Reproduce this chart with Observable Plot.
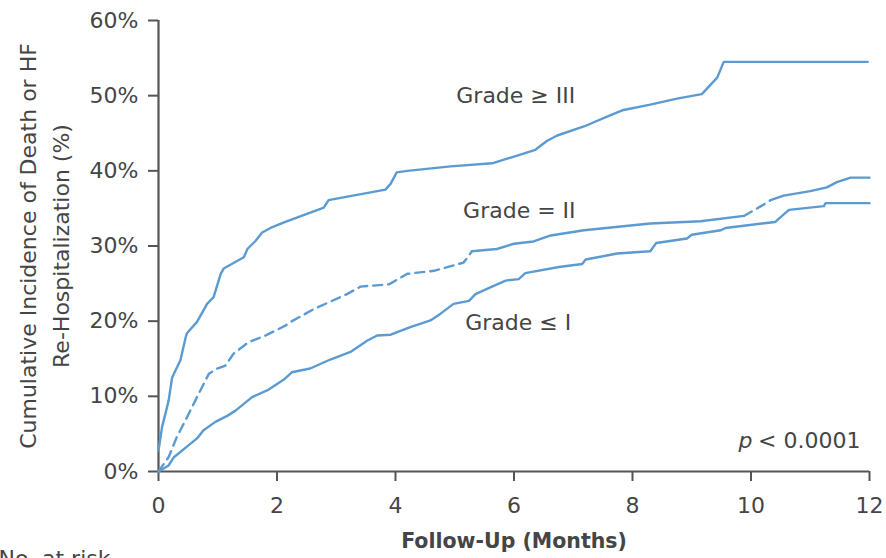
<!DOCTYPE html>
<html>
<head>
<meta charset="utf-8">
<script src="https://cdn.jsdelivr.net/npm/d3@7"></script>
<script src="https://cdn.jsdelivr.net/npm/@observablehq/plot@0.6"></script>
<style>
  html, body { margin: 0; padding: 0; background: #fff; }
  #chart { width: 886px; height: 558px; overflow: hidden; }
</style>
</head>
<body>
<div id="chart"></div>
<script>
// ---- Data ----
const xTicks = [0, 2, 4, 6, 8, 10, 12];
const yTicks = [0, 10, 20, 30, 40, 50, 60];

// Grade >= III
const monthsG3 = [0, 0.06, 0.17, 0.23, 0.37, 0.46, 0.48, 0.65, 0.82, 0.93, 1.05, 1.10, 1.44, 1.50, 1.64, 1.75, 1.89, 2.14, 2.79, 2.87, 3.83, 3.92, 4.02, 4.2, 4.93, 5.63, 6.0, 6.36, 6.56, 6.73, 7.18, 7.63, 7.85, 8.30, 8.75, 9.17, 9.43, 9.54, 11.97];
const pctG3 = [2.8, 5.9, 9.4, 12.5, 14.8, 17.9, 18.4, 19.9, 22.3, 23.2, 26.3, 27.0, 28.5, 29.6, 30.7, 31.8, 32.4, 33.2, 35.1, 36.1, 37.5, 38.3, 39.8, 40.0, 40.6, 41.0, 41.9, 42.8, 44.0, 44.7, 45.9, 47.4, 48.1, 48.8, 49.6, 50.2, 52.4, 54.5, 54.5];

// Grade = II
const monthsG2 = [0, 0.17, 0.31, 0.48, 0.65, 0.85, 0.99, 1.13, 1.27, 1.52, 1.81, 2.14, 2.23, 2.62, 3.18, 3.41, 3.89, 4.2, 4.65, 5.15, 5.29, 5.71, 6.0, 6.33, 6.62, 7.18, 8.3, 9.15, 9.88, 10.19, 10.33, 10.55, 11.0, 11.28, 11.45, 11.68, 12.0];
const pctG2 = [0, 1.9, 4.6, 7.2, 9.9, 13.0, 13.7, 14.1, 15.7, 17.2, 18.1, 19.4, 19.9, 21.6, 23.6, 24.6, 24.9, 26.3, 26.7, 27.8, 29.3, 29.6, 30.3, 30.6, 31.4, 32.1, 33.0, 33.3, 34.0, 35.4, 36.1, 36.7, 37.3, 37.8, 38.5, 39.1, 39.1];

// Grade <= I
const monthsG1 = [0, 0.17, 0.26, 0.51, 0.65, 0.76, 0.96, 1.16, 1.30, 1.58, 1.86, 2.11, 2.25, 2.56, 2.90, 3.24, 3.52, 3.69, 3.92, 4.25, 4.59, 4.76, 4.98, 5.24, 5.35, 5.60, 5.86, 6.08, 6.19, 6.76, 7.15, 7.21, 7.74, 8.30, 8.40, 8.92, 9.0, 9.49, 9.57, 10.41, 10.64, 11.23, 11.26, 12.0];
const pctG1 = [0, 0.8, 1.9, 3.5, 4.4, 5.5, 6.6, 7.4, 8.1, 9.9, 10.9, 12.2, 13.2, 13.7, 14.9, 15.9, 17.4, 18.1, 18.2, 19.2, 20.1, 21.0, 22.3, 22.7, 23.6, 24.5, 25.4, 25.6, 26.4, 27.2, 27.6, 28.2, 29.0, 29.3, 30.4, 31.0, 31.5, 32.1, 32.4, 33.2, 34.8, 35.3, 35.7, 35.7];

// Curve labels (in data units)
const labelText = ["Grade \u2265 III", "Grade = II", "Grade \u2264 I"];
const labelMonth = [6.03, 6.09, 6.07];
const labelPct = [50.0, 34.7, 19.8];

const yTitle1 = "Cumulative Incidence of Death or HF";
const yTitle2 = "Re-Hospitalization (%)";
const xTitle = "Follow-Up (Months)";
const pText = "< 0.0001";
const riskText = "No. at risk";

// ---- Build rows ----
const toRows = (ms, vs) => ms.map((m, i) => ({m, v: vs[i]}));
const g3 = toRows(monthsG3, pctG3);
const g2 = toRows(monthsG2, pctG2);
const g1 = toRows(monthsG1, pctG1);

// Grade II is drawn dashed over these month spans, solid elsewhere
const dashedSpans = [[0, 5.29], [9.88, 10.33]];
const isDashed = (a, b) => {
  const mid = (a.m + b.m) / 2;
  return dashedSpans.some(([s, e]) => mid >= s && mid <= e);
};
const runs = [];
let cur = null;
for (let i = 0; i < g2.length - 1; i++) {
  const d = isDashed(g2[i], g2[i + 1]);
  if (!cur || cur.dashed !== d) { cur = {dashed: d, pts: [g2[i]]}; runs.push(cur); }
  cur.pts.push(g2[i + 1]);
}
const g2Dashed = runs.filter(r => r.dashed).flatMap((r, k) => r.pts.map(p => ({...p, run: k})));
const g2Solid = runs.filter(r => !r.dashed).flatMap((r, k) => r.pts.map(p => ({...p, run: k})));

const lineColor = "#5b9bd1";
const axisColor = "#555";
const textColor = "#454545";
const font = "DejaVu Sans";

const chart = Plot.plot({
  width: 886,
  height: 558,
  marginLeft: 158,
  marginRight: 17,
  marginTop: 20,
  marginBottom: 87,
  style: {fontFamily: font, fontSize: "22px", color: textColor, background: "#fff", overflow: "visible"},
  x: {domain: [0, 12]},
  y: {domain: [0, 60]},
  marks: [
    Plot.axisY({ticks: yTicks, tickFormat: d => d + "%", tickSize: 10, tickPadding: 10, fontSize: 22, label: null, stroke: axisColor, strokeWidth: 2, fill: textColor}),
    Plot.axisX({ticks: xTicks, tickSize: 10, tickPadding: 16, fontSize: 22, label: null, stroke: axisColor, strokeWidth: 2, fill: textColor}),
    Plot.ruleX([0], {stroke: axisColor, strokeWidth: 2.2}),
    Plot.ruleY([0], {stroke: axisColor, strokeWidth: 2.2}),
    Plot.line(g3, {x: "m", y: "v", stroke: lineColor, strokeWidth: 2.4}),
    Plot.line(g1, {x: "m", y: "v", stroke: lineColor, strokeWidth: 2.4}),
    Plot.line(g2Solid, {x: "m", y: "v", z: "run", stroke: lineColor, strokeWidth: 2.4}),
    Plot.line(g2Dashed, {x: "m", y: "v", z: "run", stroke: lineColor, strokeWidth: 2.4, strokeDasharray: "9,6"}),
    Plot.text(labelText, {x: (d, i) => labelMonth[i], y: (d, i) => labelPct[i], text: d => d, fill: textColor, fontSize: 22, textAnchor: "middle", lineAnchor: "middle"}),
    Plot.text([pText], {frameAnchor: "bottom-right", dx: -9, dy: -31, text: d => d, textAnchor: "end", lineAnchor: "middle", fill: textColor, fontSize: 22}),
    Plot.text(["p"], {frameAnchor: "bottom-right", dx: -117, dy: -31, text: d => d, textAnchor: "end", lineAnchor: "middle", fill: textColor, fontSize: 22, fontStyle: "italic"}),
    Plot.text([yTitle1], {frameAnchor: "left", dx: -130, text: d => d, rotate: -90, textAnchor: "middle", lineAnchor: "middle", fill: textColor, fontSize: 22}),
    Plot.text([yTitle2], {frameAnchor: "left", dx: -97, text: d => d, rotate: -90, textAnchor: "middle", lineAnchor: "middle", fill: textColor, fontSize: 22}),
    Plot.text([xTitle], {frameAnchor: "bottom", dy: 70, text: d => d, textAnchor: "middle", lineAnchor: "middle", fill: textColor, fontSize: 20.5, fontWeight: "bold"}),
    Plot.text([riskText], {frameAnchor: "bottom-left", dx: -160, dy: 87, text: d => d, textAnchor: "start", lineAnchor: "middle", fill: textColor, fontSize: 22})
  ]
});
document.getElementById("chart").appendChild(chart);
</script>
</body>
</html>
